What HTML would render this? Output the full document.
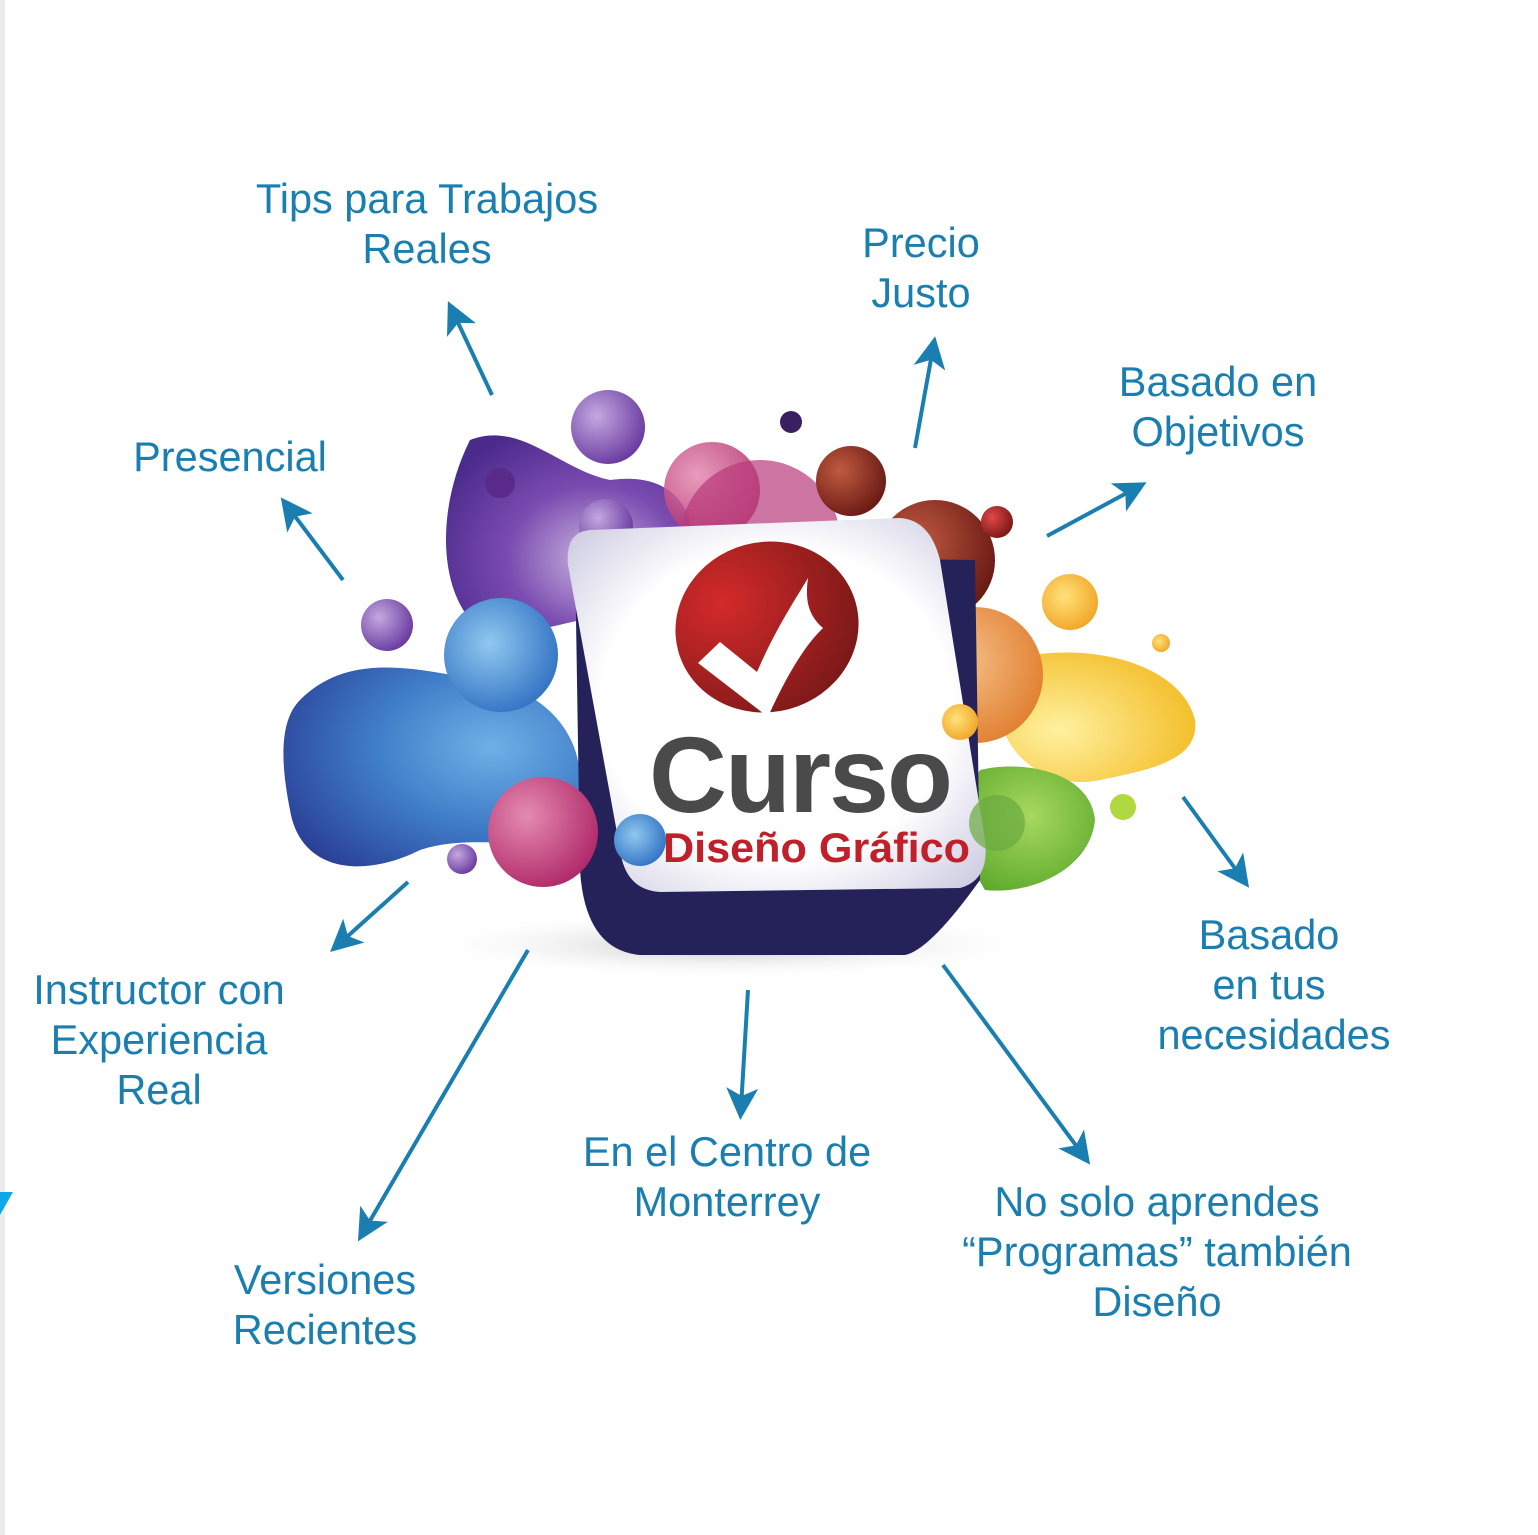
<!DOCTYPE html>
<html><head><meta charset="utf-8"><style>
html,body{margin:0;padding:0;background:#fff;}
svg{display:block}
text{font-family:"Liberation Sans",Arial,sans-serif;}
</style></head><body>
<svg width="1538" height="1535" viewBox="0 0 1538 1535" xmlns="http://www.w3.org/2000/svg">
<defs>
<radialGradient id="gPur" cx="0.6" cy="0.6" r="0.7"><stop offset="0" stop-color="#c9b6e0"/><stop offset="0.5" stop-color="#7a4bb0"/><stop offset="1" stop-color="#4a2a8a"/></radialGradient>
<radialGradient id="gBlue" cx="0.7" cy="0.4" r="0.8"><stop offset="0" stop-color="#6fb0e6"/><stop offset="0.5" stop-color="#3f7cc8"/><stop offset="1" stop-color="#2a3f96"/></radialGradient>
<radialGradient id="gOr" cx="0.4" cy="0.4" r="0.7"><stop offset="0" stop-color="#f5c088"/><stop offset="1" stop-color="#e07a2a"/></radialGradient>
<radialGradient id="gYel" cx="0.3" cy="0.6" r="0.8"><stop offset="0" stop-color="#fff1a0"/><stop offset="1" stop-color="#f2b81c"/></radialGradient>
<radialGradient id="gGrn" cx="0.5" cy="0.4" r="0.7"><stop offset="0" stop-color="#a8d860"/><stop offset="1" stop-color="#5aa82a"/></radialGradient>
<radialGradient id="gRed" cx="0.35" cy="0.35" r="0.7"><stop offset="0" stop-color="#e04848"/><stop offset="1" stop-color="#7a1616"/></radialGradient>
<radialGradient id="gBr" cx="0.35" cy="0.35" r="0.7"><stop offset="0" stop-color="#c05a40"/><stop offset="1" stop-color="#6a1a14"/></radialGradient>
<radialGradient id="gMag" cx="0.35" cy="0.35" r="0.7"><stop offset="0" stop-color="#e58ab0"/><stop offset="1" stop-color="#b02a6a"/></radialGradient>
<radialGradient id="gSph" cx="0.35" cy="0.35" r="0.7"><stop offset="0" stop-color="#c3a8e0"/><stop offset="1" stop-color="#6a3aa0"/></radialGradient>
<radialGradient id="gBs" cx="0.4" cy="0.4" r="0.7"><stop offset="0" stop-color="#90c8f0"/><stop offset="1" stop-color="#2a6cc0"/></radialGradient>
<radialGradient id="gYs" cx="0.4" cy="0.4" r="0.7"><stop offset="0" stop-color="#ffe27a"/><stop offset="1" stop-color="#f0a020"/></radialGradient>
<radialGradient id="gFace" cx="0.5" cy="0.5" r="0.7"><stop offset="0.6" stop-color="#ffffff"/><stop offset="1" stop-color="#c8c6de"/></radialGradient>
<radialGradient id="gCheck" cx="0.3" cy="0.3" r="0.8"><stop offset="0" stop-color="#d42a2a"/><stop offset="1" stop-color="#7a1818"/></radialGradient>
<radialGradient id="gShadow" cx="0.5" cy="0.5" r="0.5"><stop offset="0" stop-color="#999" stop-opacity="0.6"/><stop offset="1" stop-color="#fff" stop-opacity="0"/></radialGradient>
<marker id="ah" markerWidth="8" markerHeight="8" refX="5" refY="4" orient="auto" markerUnits="strokeWidth"><path d="M0,0 L8,4 L0,8 L2,4 z" fill="#1a7fb0"/></marker>
</defs>
<rect x="0" y="0" width="5" height="1535" fill="#ececec"/>
<polygon points="0,1192 13,1192 0,1215" fill="#10a8e8"/>

<ellipse cx="730" cy="945" rx="320" ry="35" fill="url(#gShadow)"/>
<path d="M470,440 C520,420 560,470 610,480 C680,470 700,520 690,560 C640,620 560,620 500,640 C440,620 430,520 470,440 Z" fill="url(#gPur)"/>
<path d="M300,700 C350,650 420,670 480,680 C560,690 600,760 570,820 C540,860 480,830 420,850 C360,880 300,870 290,810 C280,760 280,720 300,700 Z" fill="url(#gBlue)"/>
<circle cx="712" cy="490" r="48" fill="url(#gMag)" opacity="0.85"/>
<circle cx="760" cy="540" r="80" fill="#b83a7a" opacity="0.7"/>
<circle cx="935" cy="560" r="60" fill="url(#gBr)"/>
<path d="M1010,660 C1080,640 1180,660 1195,720 C1200,760 1150,770 1100,780 C1050,790 1010,760 1000,720 Z" fill="url(#gYel)"/>
<path d="M980,770 C1020,760 1090,770 1095,820 C1090,870 1030,895 985,890 C960,850 960,800 980,770 Z" fill="url(#gGrn)"/>
<circle cx="975" cy="675" r="68" fill="url(#gOr)"/>
<circle cx="608" cy="427" r="37" fill="url(#gSph)"/>
<circle cx="791" cy="422" r="11" fill="#3a2060"/>
<circle cx="851" cy="481" r="35" fill="url(#gBr)"/>
<circle cx="997" cy="522" r="16" fill="url(#gRed)"/>
<circle cx="1070" cy="602" r="28" fill="url(#gYs)"/>
<circle cx="1161" cy="643" r="9" fill="url(#gYs)"/>
<circle cx="1123" cy="807" r="13" fill="#b0d840"/>
<circle cx="387" cy="625" r="26" fill="url(#gSph)"/>
<circle cx="462" cy="859" r="15" fill="url(#gSph)"/>
<circle cx="500" cy="483" r="15" fill="#5a2a8a"/>
<circle cx="606" cy="526" r="27" fill="url(#gSph)"/>

<path d="M575,555 L580,870 Q585,950 640,955 L905,955 Q930,950 980,880 L975,560 Z" fill="#25225a"/>
<path d="M590,530 L900,518 Q930,520 940,560 L985,840 Q990,880 960,888 L660,892 Q630,890 622,860 L568,565 Q565,532 590,530 Z" fill="url(#gFace)"/>
<circle cx="501" cy="655" r="57" fill="url(#gBs)"/>
<circle cx="543" cy="832" r="55" fill="url(#gMag)"/>
<circle cx="640" cy="840" r="26" fill="url(#gBs)"/>
<circle cx="960" cy="722" r="18" fill="url(#gYs)"/>
<circle cx="997" cy="823" r="28" fill="#6aaa40" opacity="0.7"/>
<ellipse cx="767" cy="627" rx="92" ry="85" transform="rotate(-15 767 627)" fill="url(#gCheck)"/>
<path d="M698,663 L720,642 L757,672 C775,630 795,600 808,578 C805,600 808,615 823,628 C800,650 780,690 768,717 Z" fill="#fff"/>
<text x="800" y="812" text-anchor="middle" font-size="108" font-weight="bold" fill="#4a4a4a" letter-spacing="-2">Curso</text>
<text x="663" y="862" font-size="42" font-weight="bold" fill="#c0202a" textLength="307" lengthAdjust="spacingAndGlyphs">Diseño Gráfico</text>

<g stroke="#1a7fb0" stroke-width="4" fill="none" marker-end="url(#ah)">
<line x1="492" y1="395" x2="453" y2="312"/>
<line x1="915" y1="448" x2="933" y2="348"/>
<line x1="1047" y1="536" x2="1136" y2="488"/>
<line x1="343" y1="580" x2="288" y2="507"/>
<line x1="408" y1="882" x2="339" y2="944"/>
<line x1="528" y1="950" x2="364" y2="1231"/>
<line x1="748" y1="990" x2="741" y2="1108"/>
<line x1="943" y1="965" x2="1083" y2="1155"/>
<line x1="1183" y1="797" x2="1242" y2="878"/>
</g>

<g fill="#1a7fb0" font-size="41.5" text-anchor="middle">
<text x="427" y="213">Tips para Trabajos</text>
<text x="427" y="263">Reales</text>
<text x="921" y="257">Precio</text>
<text x="921" y="307">Justo</text>
<text x="1218" y="396">Basado en</text>
<text x="1218" y="446">Objetivos</text>
<text x="230" y="471">Presencial</text>
<text x="159" y="1004">Instructor con</text>
<text x="159" y="1054">Experiencia</text>
<text x="159" y="1104">Real</text>
<text x="325" y="1294">Versiones</text>
<text x="325" y="1344">Recientes</text>
<text x="727" y="1166">En el Centro de</text>
<text x="727" y="1216">Monterrey</text>
<text x="1157" y="1216">No solo aprendes</text>
<text x="1157" y="1266">“Programas” también</text>
<text x="1157" y="1316">Diseño</text>
<text x="1269" y="949">Basado</text>
<text x="1269" y="999">en tus</text>
<text x="1274" y="1049">necesidades</text>
</g>
</svg>
</body></html>
